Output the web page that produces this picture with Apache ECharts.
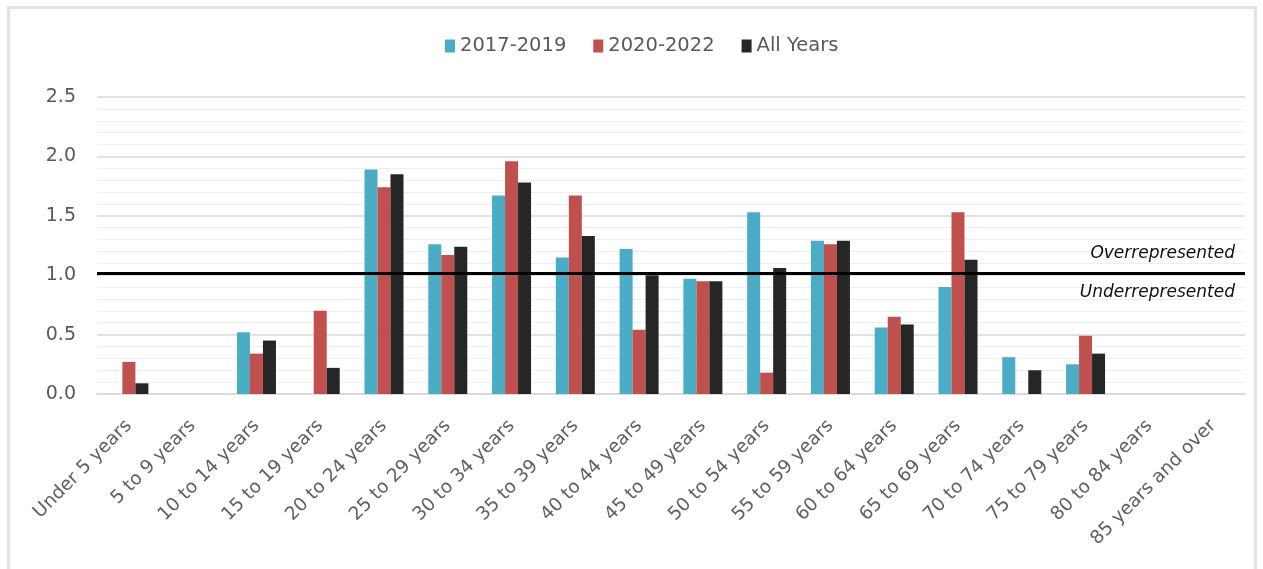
<!DOCTYPE html>
<html><head><meta charset="utf-8">
<script src="https://cdn.jsdelivr.net/npm/echarts@6/dist/echarts.min.js"></script>
<style>
html,body{margin:0;padding:0;background:#fff;overflow:hidden}
#frame{position:absolute;left:7px;top:6px;width:1250px;height:620px;border:3px solid #e2e2e2;box-sizing:border-box}
#chart{position:absolute;left:0;top:0;width:1263px;height:569px}
</style></head><body>
<div id="frame"></div><div id="chart"></div>
<script>
var categories = ['Under 5 years','5 to 9 years','10 to 14 years','15 to 19 years','20 to 24 years','25 to 29 years','30 to 34 years','35 to 39 years','40 to 44 years','45 to 49 years','50 to 54 years','55 to 59 years','60 to 64 years','65 to 69 years','70 to 74 years','75 to 79 years','80 to 84 years','85 years and over'];
var s2017 = [0, 0, 0.52, 0, 1.89, 1.26, 1.67, 1.15, 1.22, 0.97, 1.53, 1.29, 0.56, 0.90, 0.31, 0.25, 0, 0];
var s2020 = [0.27, 0, 0.34, 0.70, 1.74, 1.17, 1.96, 1.67, 0.54, 0.95, 0.18, 1.26, 0.65, 1.53, 0, 0.49, 0, 0];
var sAll  = [0.09, 0, 0.45, 0.22, 1.85, 1.24, 1.78, 1.33, 1.00, 0.95, 1.06, 1.29, 0.585, 1.13, 0.20, 0.34, 0, 0];
var seriesNames = ['2017-2019','2020-2022','All Years'];
var yTicks = {min: 0, max: 2.5, interval: 0.5};
var thresholdValue = 1.02;

var FONT = 'DejaVu Sans';
var chart = echarts.init(document.getElementById('chart'));
function bar(name, data, color, extra) {
  var s = {name: name, type: 'bar', data: data, barWidth: 13, barGap: '0%',
    itemStyle: {color: color}, emphasis: {disabled: true}};
  if (extra) for (var k in extra) s[k] = extra[k];
  return s;
}
chart.setOption({
  animation: false,
  textStyle: {fontFamily: FONT},
  legend: {
    left: 440, top: 31, itemWidth: 10, itemHeight: 13, itemGap: 27,
    icon: 'rect',
    textStyle: {fontFamily: FONT, fontSize: 19.5, color: '#595959'},
    data: seriesNames
  },
  grid: {left: 97, right: 18, top: 97, bottom: 175},
  xAxis: {
    type: 'category', data: categories,
    axisTick: {show: false},
    axisLine: {lineStyle: {color: '#d9d9d9', width: 1.5}},
    axisLabel: {interval: 0, rotate: 45, margin: 29, color: '#606060', fontFamily: FONT, fontSize: 18.5}
  },
  yAxis: {
    type: 'value', min: yTicks.min, max: yTicks.max, interval: yTicks.interval,
    axisLine: {show: false}, axisTick: {show: false},
    axisLabel: {margin: 21, color: '#595959', fontFamily: FONT, fontSize: 19,
      formatter: function (v) { return v.toFixed(1); }},
    splitLine: {lineStyle: {color: '#d9d9d9', width: 1.5}},
    minorTick: {show: false, splitNumber: 5},
    minorSplitLine: {show: true, lineStyle: {color: '#eeeeee', width: 1}}
  },
  series: [
    bar(seriesNames[0], s2017, '#4BACC6'),
    bar(seriesNames[1], s2020, '#C0504D'),
    bar(seriesNames[2], sAll, '#262626', {
      markLine: {
        silent: true, symbol: 'none',
        lineStyle: {color: '#000', width: 3, type: 'solid'},
        label: {fontFamily: FONT, fontSize: 17, fontStyle: 'italic', color: '#111'},
        data: [
          {yAxis: thresholdValue, label: {formatter: 'Overrepresented', position: 'insideEndTop', distance: [10, 11]}},
          {yAxis: thresholdValue, label: {formatter: 'Underrepresented', position: 'insideEndBottom', distance: [10, 11]}}
        ]
      }
    })
  ]
});
</script>
</body></html>
